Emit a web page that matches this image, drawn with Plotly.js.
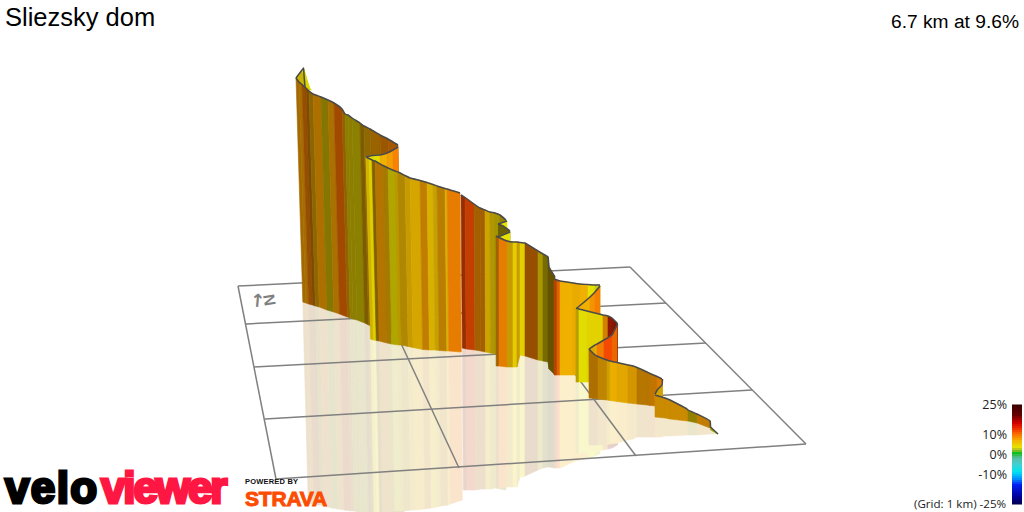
<!DOCTYPE html>
<html><head><meta charset="utf-8">
<script src="https://cdn.plot.ly/plotly-3.0.1.min.js"></script>
<style>html,body{margin:0;padding:0;background:#fff}#chart{width:1024px;height:512px}</style>
</head><body><div id="chart"></div>
<script>
// Ribbon sections, far to near. x: top edge position, top/bot: top and foot of wall,
// refl: lower edge of the mirror image, grade: % per strip, light: shading per strip.
const A0_x=[296,299,302,303.5,304,305], A0_top=[78,74,70,68,75,87], A0_bot=[90,90,90,90,90,90], A0_grade=[5,5,4,4,4], A0_light=[.85,.85,.95,.95,.95];
const A_x=[296,299,302,306,309,313,321,328,334,342,345,348,352,360,364,370,380,388,398];
const A_top=[78,82,84.5,88,91,94,97,100,103,109,114,115,118,123,126,129,135,139,145];
const A_bot=[302,303,304,305,306,307,310,312,314,317,318,319,320,323,325,327,330,333,336];
const A_refl=[503,504,504,505,505,506,508,509,510,511,511,512,512,513,513,513,513,513,513];
const A_grade=[8,8,9.5,9,7,8,5,7.8,10.3,8,5,5,4.8,7,7,8,9,9.5];
const A_light=[.66,.68,.6,.52,.57,.7,.56,.69,.65,.6,.6,.6,.6,.51,.58,.62,.62,.66];
const A2_x=[366,372,380,387,393,398], A2_top=[157,155.5,155,153,150,147], A2_bot=[300,300,300,300,300,300], A2_grade=[4,4,7,8,9.5], A2_light=[.98,.98,.98,.98,1];
const B_x=[366,369,372,375,383,388,395,398,405,410,420,427,433,437,445,447,460];
const B_top=[157,158.5,160,161,165.5,168,171,172,175.5,178,180.5,182.5,184.5,186,188.5,189,193];
const B_bot=[339,340,340.5,341,343,344,345,345,346.5,347.5,349.5,350,350,350.5,351,351,352];
const B_refl=[512,512,512,512,512,511,511,511,510,510,509,508,507,506,505,504,500];
const B_grade=[5.5,4.5,7,8,7,4.4,6,6.5,6.5,6.5,8,6,6,7.7,6,9.3];
const B_light=[.88,.95,.53,.73,.67,.76,.78,.72,.82,.88,.78,.9,.82,.75,.9,.93];
const C_x=[461,465,474,480,485,490,495,500,506];
const C_top=[195,197.5,204,208,210,212,213,215,220];
const C_bot=[348,349,350,351,352,353,354,355,355];
const C_refl=[490,490,490,489,489,489,488,489,490];
const C_grade=[12,11.8,8.8,8.8,6.2,5.5,5,5];
const C_light=[.62,.8,.66,.66,.85,.74,.7,.62];
const D1_x=[498,507], D1_top=[224,221], D1_bot=[300,300], D1_grade=[4], D1_light=[1];
const D2_x=[498,503,510], D2_top=[224,226,231], D2_bot=[300,300,300], D2_grade=[5,5], D2_light=[.46,.46];
const D3_x=[497,503,510], D3_top=[237,235,232], D3_bot=[300,300,300], D3_grade=[4,4], D3_light=[1,1];
const E_x=[496,499,507,513,517,520,524,525,538,543,548,549,555];
const E_top=[236,237.5,241,242,242,242.5,243,243,251,254,257,267,277];
const E_bot=[366,366,367,367,367,355,356,356,360,361,362,369,375];
const E_refl=[488,488,487,487,487,477,477,476,470,468,467,467,468];
const E_grade=[8.5,9.3,6.5,5,6.5,4.7,4.7,9.5,5,4.8,6,6];
const E_light=[.65,.93,.82,.97,.82,.97,.97,.6,.72,.5,.42,.42];
const F_x=[554,557,560,573,580,588,595,600];
const F_top=[279,280,281,283,284,284.5,285,285];
const F_bot=[375,375,375,375,375,375,375,375];
const F_refl=[468,468,468,462,460,458,456,454];
const F_grade=[11,10.5,7,7,7,4,3.3];
const F_light=[.72,.9,.98,.95,.98,1,.98];
const F2_x=[577,583,590,595,600], F2_top=[308,303,297,292,286], F2_bot=[340,340,340,340,340], F2_grade=[7,7,8.5,9.5], F2_light=[.98,.98,.98,.98];
const G_x=[576,579,587,603,608,612,614,617,617.5];
const G_top=[308,309,311,315,316,318,320,323,326];
const G_bot=[382,382,382,382,382,382,382,382,382];
const G_refl=[453,453,452,450,449,448,447,445,445];
const G_grade=[5.5,4,4.5,8.5,13.5,13.5,13,13];
const G_light=[.78,.98,.97,.85,.6,.6,.5,.5];
const G2_x=[589,595,597,604,612,617], G2_top=[349,345,344,340,335,325], G2_bot=[366,366,366,366,366,366], G2_grade=[6.5,7,9.5,12,10.5], G2_light=[.9,.95,.97,1,.95];
const H_x=[589,595,598,607,610,617,628,633,637,647,650,657,662];
const H_top=[349,355,356.5,360,361,362.5,365,366,367.5,372,373.5,376.5,379];
const H_bot=[398,398.5,399,400,400.5,401.5,403,403.5,404,405,405.5,406,407];
const H_refl=[445,445,445,444.5,444,443,440,439,437,437,437,437,437];
const H_grade=[8,8,7.5,6.5,7,7,7.3,7.3,8,8,8.5,9];
const H_light=[.7,.7,.78,.85,.96,.92,.86,.86,.74,.74,.78,.88];
const H2_x=[655,658,662,662.5], H2_top=[394,389,385,379], H2_bot=[400,400,400,400], H2_grade=[6.5,6.5,6.5], H2_light=[.87,.87,.87];
const I_x=[655,665,670,687,688,697,710,710.5];
const I_top=[395,398,400,409,410,414,421,428];
const I_bot=[417,418,419,421,421,423,428,428];
const I_refl=[437,436,436,435,435,435,434,434];
const I_grade=[7.5,7.5,7.5,7.5,5.2,8,8];
const I_light=[.82,.82,.82,.82,.62,.78,.78];
const J_x=[710.5,718], J_top=[427,434], J_bot=[430,434], J_refl=[434,434], J_grade=[4], J_light=[.7];

const gridLines=[
 [[238,286],[630,267]],[[246,324],[666,303]],[[254,367],[706,343]],[[265,419],[752,390]],[[276,479],[806,444]],
 [[238,286],[276,479]],[[371,279],[459,468]],[[500,273],[636,456]],[[630,267],[806,444]]];
const gradeStops=[-25,-21,-15,-11.7,-8.3,-5,-1.7,1,2.5,4,7,10,13,16,20,25];
const gradeColors=[[0,0,70],[0,0,150],[0,30,240],[0,150,255],[0,230,240],[60,210,210],[90,190,170],[20,190,30],[170,190,40],[230,225,0],[245,180,0],[250,120,0],[240,50,0],[210,0,0],[100,0,0],[60,0,0]];
const legendTicks=[25,10,0,-10];
const legendLabels=['25%','10%','0%','-10%'];
const legendFoot='(Grid: 1 km) -25%';

function gradeRGB(g){
  let i=0; while(i<gradeStops.length-2 && g>gradeStops[i+1]) i++;
  const t=(g-gradeStops[i])/(gradeStops[i+1]-gradeStops[i]);
  return gradeColors[i].map((c,k)=>c+(gradeColors[i+1][k]-c)*t);
}
const css=c=>'rgb('+c.map(v=>Math.round(v)).join(',')+')';
const lean=x=>Math.max(0,(500-x)/30);

const sections=[
 {x:A0_x,top:A0_top,bot:A0_bot,grade:A0_grade,light:A0_light},
 {x:A_x,top:A_top,bot:A_bot,refl:A_refl,grade:A_grade,light:A_light},
 {x:A2_x,top:A2_top,bot:A2_bot,grade:A2_grade,light:A2_light},
 {x:B_x,top:B_top,bot:B_bot,refl:B_refl,grade:B_grade,light:B_light},
 {x:C_x,top:C_top,bot:C_bot,refl:C_refl,grade:C_grade,light:C_light},
 {x:D1_x,top:D1_top,bot:D1_bot,grade:D1_grade,light:D1_light},
 {x:D2_x,top:D2_top,bot:D2_bot,grade:D2_grade,light:D2_light},
 {x:D3_x,top:D3_top,bot:D3_bot,grade:D3_grade,light:D3_light},
 {x:E_x,top:E_top,bot:E_bot,refl:E_refl,grade:E_grade,light:E_light},
 {x:F_x,top:F_top,bot:F_bot,refl:F_refl,grade:F_grade,light:F_light},
 {x:F2_x,top:F2_top,bot:F2_bot,grade:F2_grade,light:F2_light},
 {x:G_x,top:G_top,bot:G_bot,refl:G_refl,grade:G_grade,light:G_light},
 {x:G2_x,top:G2_top,bot:G2_bot,grade:G2_grade,light:G2_light},
 {x:H_x,top:H_top,bot:H_bot,refl:H_refl,grade:H_grade,light:H_light},
 {x:H2_x,top:H2_top,bot:H2_bot,grade:H2_grade,light:H2_light},
 {x:I_x,top:I_top,bot:I_bot,refl:I_refl,grade:I_grade,light:I_light},
 {x:J_x,top:J_top,bot:J_bot,refl:J_refl,grade:J_grade,light:J_light}
];

const base={type:'scatter',mode:'lines',hoverinfo:'skip',showlegend:false,xaxis:'x',yaxis:'y'};
const poly=(xs,ys,col)=>Object.assign({},base,{x:xs.concat(xs[0]),y:ys.concat(ys[0]),fill:'toself',fillcolor:col,line:{color:col,width:.6}});
const traces=[];
// mirror image
sections.forEach(s=>{ if(!s.refl) return;
  s.grade.forEach((g,i)=>{
    const c=gradeRGB(g).map(v=>v*s.light[i]);
    const pale=c.map(v=>255*.8+v*.2);
    const x0=s.x[i]+lean(s.x[i]), x1=s.x[i+1]+lean(s.x[i+1]);
    const r0=x0+lean(s.x[i])*.8, r1=x1+lean(s.x[i+1])*.8;
    traces.push(poly([x0,x1,r1,r0],[s.bot[i],s.bot[i+1],s.refl[i+1],s.refl[i]],css(pale)));
  });
});
// ground grid
gridLines.forEach(l=>traces.push(Object.assign({},base,{x:[l[0][0],l[1][0]],y:[l[0][1],l[1][1]],line:{color:'#808080',width:1.5}})));
// walls
sections.forEach(s=>{
  s.grade.forEach((g,i)=>{
    const c=css(gradeRGB(g).map(v=>v*s.light[i]));
    traces.push(poly([s.x[i],s.x[i+1],s.x[i+1]+lean(s.x[i+1]),s.x[i]+lean(s.x[i])],[s.top[i],s.top[i+1],s.bot[i+1],s.bot[i]],c));
  });
  traces.push(Object.assign({},base,{x:s.x,y:s.top,line:{color:'#4a4a4a',width:1.5,shape:'spline',smoothing:.4}}));
});
// legend bar
const lv=[];for(let v=-25;v<=25;v+=1)lv.push(v);
traces.push({type:'heatmap',xaxis:'x2',yaxis:'y2',x:[0,1],y:lv,z:lv.map(v=>[v,v]),zmin:-25,zmax:25,showscale:false,hoverinfo:'skip',
  colorscale:gradeStops.map((s,i)=>[(s+25)/50,css(gradeColors[i])])});

const sans='"Liberation Sans", Arial, sans-serif';
const ann=(text,x,y,size,color,extra)=>Object.assign({text,x,y,xref:'x',yref:'y',xanchor:'left',yanchor:'middle',align:'left',showarrow:false,borderpad:0,font:{family:sans,size,color}},extra||{});
const layout={
  width:1024,height:512,margin:{l:0,r:0,t:0,b:0,pad:0},paper_bgcolor:'#fff',plot_bgcolor:'#fff',showlegend:false,
  title:{text:'Sliezsky dom',x:5/1024,xanchor:'left',xref:'paper',y:1-17/512,yref:'paper',yanchor:'middle',font:{family:sans,size:25.5,color:'#000'}},
  xaxis:{range:[0,1024],visible:false,domain:[0,1],fixedrange:true},
  yaxis:{range:[512,0],visible:false,domain:[0,1],fixedrange:true},
  xaxis2:{range:[0,1],visible:false,domain:[1012/1024,1022/1024],anchor:'y2'},
  yaxis2:{range:[-25.05,25.05],domain:[1-504.5/512,1-404.5/512],anchor:'x2',side:'left',showgrid:false,zeroline:false,showline:false,ticks:'',
    tickmode:'array',tickvals:legendTicks,ticktext:legendLabels,automargin:false,ticklabelstandoff:4,tickfont:{family:'"Open Sans", sans-serif',size:12.5,color:'#222'}},
  annotations:[
    ann('6.7 km at 9.6%',1019.5,21,19.2,'#000',{xanchor:'right',align:'right'}),
    ann('N',270,300,16,'#808080',{xanchor:'center',align:'center',textangle:80,font:{family:sans,size:16,color:'#808080',weight:700}}),
    ann('↑',257,300,18,'#808080',{xanchor:'center',align:'center',textangle:5,font:{family:'"DejaVu Sans", sans-serif',size:18,color:'#808080',weight:700}}),
    ann(legendFoot,1007,503,11.6,'#222',{xanchor:'right',align:'right',font:{family:'"Open Sans", sans-serif',size:11.6,color:'#222'}}),
    ann('velo',4,487,44,'#000',{font:{family:sans,size:44,color:'#000',weight:700}}),
    ann('viewer',100,487,44,'#ff1744',{font:{family:sans,size:44,color:'#ff1744',weight:700}}),
    ann('POWERED BY',244,481,7.5,'#111',{font:{family:sans,size:7.5,color:'#111',weight:700}}),
    ann('STRAVA',243.5,498,21,'#fc4c02',{font:{family:sans,size:21,color:'#fc4c02',weight:700}})
  ]
};
Plotly.newPlot('chart',traces,layout,{staticPlot:true,displayModeBar:false}).then(()=>{
  const style={velo:['1.4px','3px','#000'],viewer:['-2.1px','3px','#ff1744'],'POWERED BY':['.2px','0',''],STRAVA:['-.2px','1px','#fc4c02']};
  document.querySelectorAll('.annotation-text').forEach(t=>{
    const s=style[t.textContent]; if(!s) return;
    t.style.letterSpacing=s[0];
    if(s[2]){t.style.stroke=s[2];t.style.strokeWidth=s[1];}
  });
});
</script></body></html>
